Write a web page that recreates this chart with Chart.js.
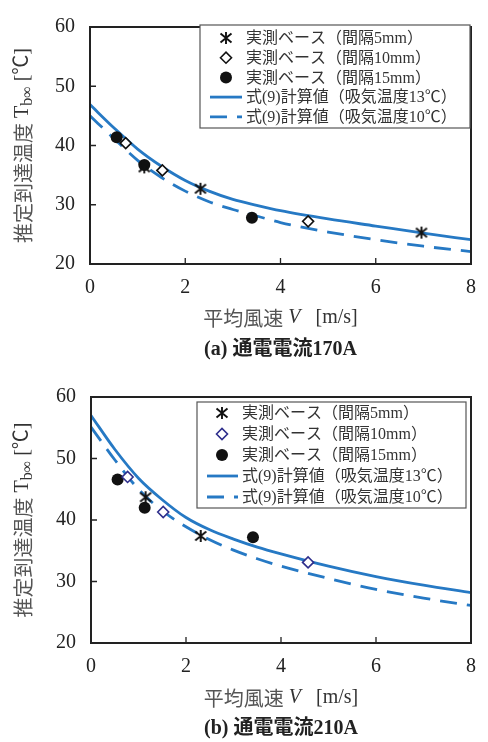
<!DOCTYPE html>
<html>
<head>
<meta charset="utf-8">
<script src="https://cdn.jsdelivr.net/npm/chart.js@4.4.1/dist/chart.umd.min.js"></script>
<style>
body { margin: 0; background: #fff; width: 488px; height: 742px; overflow: hidden; }
.wrap { position: absolute; left: 0; width: 488px; }
#wrapA { top: 0; height: 365px; }
#wrapB { top: 370px; height: 372px; }
</style>
</head>
<body>
<div class="wrap" id="wrapA"><canvas id="chartA"></canvas></div>
<div class="wrap" id="wrapB"><canvas id="chartB"></canvas></div>
<script>
// axis ticks
var xTicks = [0, 2, 4, 6, 8];
var yTicks = [20, 30, 40, 50, 60];

// V values the calculated curves are read at
var curveV = [0, 0.5, 1, 1.5, 2, 2.5, 3, 3.5, 4, 5, 6, 7, 8];

// (a) 170A
var a_v5 = [1.14, 2.32, 6.96];
var a_t5 = [36.3, 32.7, 25.3];
var a_v10 = [0.75, 1.52, 4.58];
var a_t10 = [40.4, 35.8, 27.2];
var a_v15 = [0.56, 1.14, 3.40];
var a_t15 = [41.4, 36.7, 27.8];
var a_calc13 = [46.9, 43.0, 39.4, 36.5, 34.1, 32.3, 30.9, 29.9, 29.0, 27.6, 26.4, 25.2, 24.1];
var a_calc10 = [45.0, 41.2, 37.5, 34.6, 32.3, 30.5, 29.2, 28.1, 27.0, 25.4, 24.1, 23.0, 22.1];

// (b) 210A
var b_v5 = [1.15, 2.31];
var b_t5 = [43.7, 37.4];
var b_v10 = [0.77, 1.52, 4.57];
var b_t10 = [47.0, 41.3, 33.1];
var b_v15 = [0.56, 1.13, 3.41];
var b_t15 = [46.6, 42.0, 37.2];
var b_calc13 = [57.0, 51.5, 46.8, 43.3, 40.4, 38.4, 36.9, 35.6, 34.5, 32.5, 30.8, 29.4, 28.2];
var b_calc10 = [55.1, 49.8, 45.0, 41.5, 38.9, 36.8, 35.1, 33.7, 32.5, 30.5, 28.7, 27.3, 26.1];

var labels = ['実測ベース（間隔5mm）', '実測ベース（間隔10mm）', '実測ベース（間隔15mm）',
              '式(9)計算値（吸気温度13℃）', '式(9)計算値（吸気温度10℃）'];
var captionA = '(a) 通電電流170A';
var captionB = '(b) 通電電流210A';

var BLUE = 'rgb(38,121,196)';
var SERIF = "'Liberation Serif', 'Noto Sans CJK JP'";

function pts(xs, ys) {
    return xs.map(function(x, i) { return { x: x, y: ys[i] }; });
}

// 6-spoke asterisk marker
function asterisk() {
    var c = document.createElement('canvas');
    c.width = 14; c.height = 14;
    var g = c.getContext('2d');
    g.strokeStyle = '#111';
    g.lineWidth = 1.9;
    g.beginPath();
    g.moveTo(7, 1); g.lineTo(7, 13);
    g.moveTo(1.5, 2.5); g.lineTo(12.5, 11.5);
    g.moveTo(1.5, 11.5); g.lineTo(12.5, 2.5);
    g.stroke();
    return c;
}
var starImg = asterisk();

// frame around plot + inward ticks
var frameTicks = {
    id: 'frameTicks',
    afterDatasetsDraw: function(chart) {
        var ctx = chart.ctx, a = chart.chartArea;
        var xs = chart.scales.x, ys = chart.scales.y;
        ctx.save();
        ctx.strokeStyle = '#222';
        ctx.lineWidth = 1.3;
        ctx.beginPath();
        xTicks.slice(1, -1).forEach(function(v) {
            var px = xs.getPixelForValue(v);
            ctx.moveTo(px, a.bottom); ctx.lineTo(px, a.bottom - 6);
        });
        yTicks.slice(1, -1).forEach(function(v) {
            var py = ys.getPixelForValue(v);
            ctx.moveTo(a.left, py); ctx.lineTo(a.left + 6, py);
        });
        ctx.stroke();
        ctx.lineWidth = 2;
        ctx.strokeRect(a.left, a.top, a.right - a.left, a.bottom - a.top);
        ctx.restore();
    }
};

// legend box inside the plot
var boxLegend = {
    id: 'boxLegend',
    afterDraw: function(chart, args, o) {
        var ctx = chart.ctx;
        ctx.save();
        ctx.fillStyle = '#fff';
        ctx.fillRect(o.x, o.y, o.w, o.h);
        ctx.strokeStyle = '#555';
        ctx.lineWidth = 1.2;
        ctx.strokeRect(o.x, o.y, o.w, o.h);
        chart.data.datasets.forEach(function(ds, i) {
            var cy = o.rowY + i * o.rowGap;
            if (ds.showLine) {
                ctx.strokeStyle = ds.borderColor;
                ctx.lineWidth = ds.borderWidth;
                ctx.setLineDash(ds.borderDash || []);
                ctx.beginPath();
                ctx.moveTo(o.lineX0, cy);
                ctx.lineTo(o.lineX1, cy);
                ctx.stroke();
                ctx.setLineDash([]);
            } else {
                ctx.fillStyle = ds.backgroundColor;
                ctx.strokeStyle = ds.borderColor;
                ctx.lineWidth = ds.borderWidth;
                Chart.helpers.drawPoint(ctx, {
                    pointStyle: ds.pointStyle, radius: ds.pointRadius,
                    rotation: 0, borderWidth: ds.borderWidth
                }, o.markX, cy);
            }
            ctx.fillStyle = '#333';
            ctx.font = '16px ' + SERIF;
            ctx.textAlign = 'left';
            ctx.textBaseline = 'middle';
            ctx.fillText(ds.label, o.textX, cy + 1);
        });
        ctx.restore();
    }
};

function drawParts(ctx, parts, x, y) {
    parts.forEach(function(p) {
        ctx.font = p[1];
        ctx.fillStyle = p[2];
        ctx.fillText(p[0], x, y + (p[3] || 0));
        x += ctx.measureText(p[0]).width;
    });
}
function partsWidth(ctx, parts) {
    var w = 0;
    parts.forEach(function(p) { ctx.font = p[1]; w += ctx.measureText(p[0]).width; });
    return w;
}

// axis titles (mixed fonts, subscript)
var axisTitles = {
    id: 'axisTitles',
    afterDraw: function(chart) {
        var ctx = chart.ctx, a = chart.chartArea;
        ctx.save();
        ctx.textAlign = 'left';
        ctx.textBaseline = 'middle';
        var xp = [
            ['平均風速', "20px 'Noto Sans CJK JP'", '#555'],
            [' ', "20px 'Liberation Serif'", '#333'],
            ['V', "italic 20px 'Liberation Serif'", '#333'],
            ['   [m/s]', "20px 'Liberation Serif'", '#333']
        ];
        var w = partsWidth(ctx, xp);
        drawParts(ctx, xp, (a.left + a.right) / 2 - w / 2, chart.scales.x.bottom - 12);

        var yp = [
            ['推定到達温度', "20px 'Noto Sans CJK JP'", '#555'],
            [' T', "20px 'Liberation Serif'", '#333'],
            ['b∞', "16px 'Liberation Serif'", '#333', 5],
            [' [℃]', "20px " + SERIF, '#333']
        ];
        var wy = partsWidth(ctx, yp);
        ctx.translate(23, (a.top + a.bottom) / 2);
        ctx.rotate(-Math.PI / 2);
        drawParts(ctx, yp, -wy / 2, 0);
        ctx.restore();
    }
};

function buildChart(id, d, lay) {
    return new Chart(document.getElementById(id), {
        type: 'scatter',
        data: {
            datasets: [
                { label: labels[0], data: pts(d.v5, d.t5), pointStyle: starImg, pointRadius: 6,
                  backgroundColor: '#111', borderColor: '#111', borderWidth: 1.5 },
                { label: labels[1], data: pts(d.v10, d.t10), pointStyle: 'rectRot', pointRadius: 5.5,
                  backgroundColor: '#fff', borderColor: d.diamond, borderWidth: 1.6 },
                { label: labels[2], data: pts(d.v15, d.t15), pointStyle: 'circle', pointRadius: 6,
                  backgroundColor: '#111', borderColor: '#111', borderWidth: 0 },
                { label: labels[3], data: pts(curveV, d.c13), showLine: true, pointRadius: 0,
                  borderColor: BLUE, borderWidth: 2.8, cubicInterpolationMode: 'monotone' },
                { label: labels[4], data: pts(curveV, d.c10), showLine: true, pointRadius: 0,
                  borderColor: BLUE, borderWidth: 2.8, borderDash: [17, 10], cubicInterpolationMode: 'monotone' }
            ]
        },
        options: {
            responsive: true,
            maintainAspectRatio: false,
            animation: false,
            layout: { padding: { top: lay.top, right: 8, left: 0, bottom: 0 } },
            scales: {
                x: {
                    type: 'linear', min: 0, max: 8,
                    afterBuildTicks: function(s) { s.ticks = xTicks.map(function(v) { return { value: v }; }); },
                    afterFit: function(s) { s.height = lay.xAxisH; },
                    grid: { display: false, drawTicks: false },
                    border: { display: false },
                    ticks: { padding: 12, color: '#222', font: { family: 'Liberation Serif', size: 20 } }
                },
                y: {
                    min: 20, max: 60,
                    afterBuildTicks: function(s) { s.ticks = yTicks.map(function(v) { return { value: v }; }); },
                    afterFit: function(s) { s.width = lay.yAxisW; },
                    grid: { display: false, drawTicks: false },
                    border: { display: false },
                    ticks: { padding: 15, color: '#222', font: { family: 'Liberation Serif', size: 20 } }
                }
            },
            plugins: {
                legend: { display: false },
                tooltip: { enabled: false },
                title: {
                    display: true, position: 'bottom', fullSize: false, text: d.caption, color: '#222',
                    font: { family: SERIF, size: 20, weight: 'bold' },
                    padding: { top: lay.capTop, bottom: lay.capBottom }
                },
                boxLegend: lay.legend
            }
        },
        plugins: [frameTicks, boxLegend, axisTitles]
    });
}

buildChart('chartA',
    { v5: a_v5, t5: a_t5, v10: a_v10, t10: a_t10, v15: a_v15, t15: a_t15,
      c13: a_calc13, c10: a_calc10, diamond: '#111', caption: captionA },
    { top: 15, xAxisH: 66, yAxisW: 90, capTop: 8, capBottom: 3,
      legend: { x: 200, y: 25, w: 270, h: 103, rowY: 38, rowGap: 19.7,
                markX: 226, lineX0: 210, lineX1: 242, textX: 246 } });

buildChart('chartB',
    { v5: b_v5, t5: b_t5, v10: b_v10, t10: b_t10, v15: b_v15, t15: b_t15,
      c13: b_calc13, c10: b_calc10, diamond: '#2e2e8c', caption: captionB },
    { top: 22, xAxisH: 67, yAxisW: 91, capTop: 7, capBottom: 1,
      legend: { x: 197, y: 32, w: 269, h: 106, rowY: 43, rowGap: 21,
                markX: 222, lineX0: 207, lineX1: 238, textX: 242 } });
</script>
</body>
</html>
